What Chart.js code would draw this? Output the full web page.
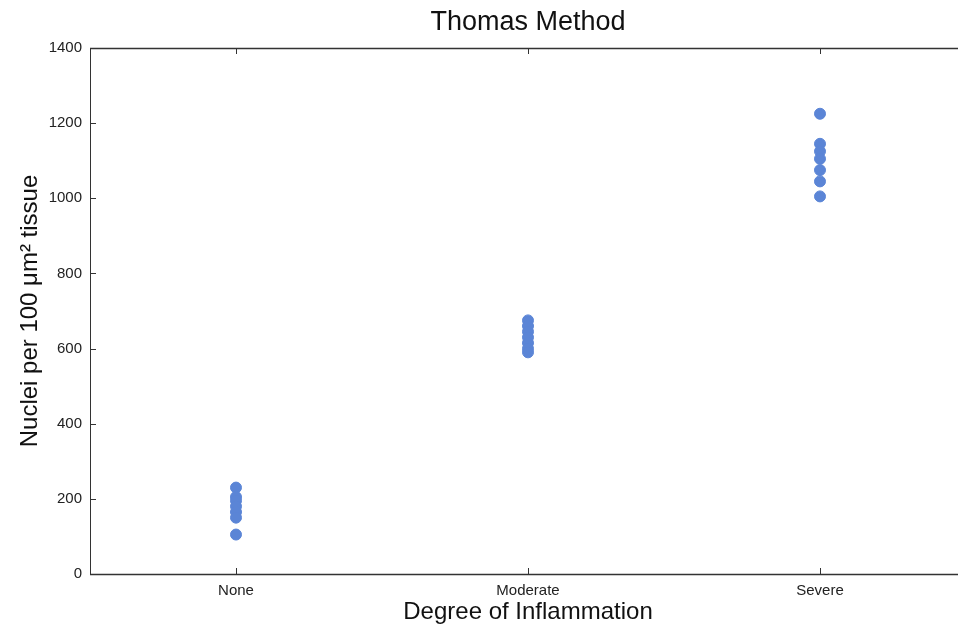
<!DOCTYPE html>
<html><head><meta charset="utf-8">
<script src="https://cdn.jsdelivr.net/npm/chart.js@4"></script>
<style>html,body{margin:0;padding:0;overflow:hidden;background:#fff}#w{width:980px;height:628px}</style>
</head><body><div id="w"><canvas id="c" width="980" height="628"></canvas></div>
<script>
const categories = ['None', 'Moderate', 'Severe'];
const noneValues = [230, 205, 195, 180, 165, 150, 105];
const moderateValues = [675, 660, 645, 630, 615, 600, 590];
const severeValues = [1225, 1145, 1125, 1105, 1075, 1045, 1005];
const yTicks = [0, 200, 400, 600, 800, 1000, 1200, 1400];
const chartTitle = 'Thomas Method';

const groups = [noneValues, moderateValues, severeValues];
const points = [];
groups.forEach((vals, i) => vals.forEach(v => points.push({x: i + 1, y: v})));

const frame = {
  id: 'frame',
  afterDraw(chart) {
    const {ctx, chartArea: a, scales} = chart;
    ctx.save();
    ctx.strokeStyle = '#333';
    ctx.lineWidth = 1;
    ctx.strokeRect(a.left + 0.5, a.top + 0.5, a.right - a.left, a.bottom - a.top);
    ctx.lineWidth = 1.5;
    ctx.beginPath();
    ctx.moveTo(a.left, a.bottom + 0.5); ctx.lineTo(a.right, a.bottom + 0.5);
    ctx.moveTo(a.left, a.top + 0.5); ctx.lineTo(a.right, a.top + 0.5);
    ctx.stroke();
    ctx.lineWidth = 1;
    ctx.beginPath();
    yTicks.forEach(t => {
      const y = Math.round(scales.y.getPixelForValue(t)) + 0.5;
      ctx.moveTo(a.left, y); ctx.lineTo(a.left + 6, y);
      ctx.moveTo(a.right, y); ctx.lineTo(a.right - 6, y);
    });
    [1, 2, 3].forEach(t => {
      const x = Math.round(scales.x.getPixelForValue(t)) + 0.5;
      ctx.moveTo(x, a.bottom); ctx.lineTo(x, a.bottom - 6);
      ctx.moveTo(x, a.top); ctx.lineTo(x, a.top + 6);
    });
    ctx.stroke();
    ctx.fillStyle = '#111';
    ctx.font = '27px "Liberation Sans", Arial, sans-serif';
    ctx.textAlign = 'center';
    ctx.textBaseline = 'middle';
    ctx.fillText(chartTitle, (a.left + a.right) / 2, 23);
    ctx.restore();
  }
};

new Chart(document.getElementById('c'), {
  type: 'scatter',
  data: { datasets: [{ data: points, backgroundColor: '#5b85d6', borderColor: '#5b85d6', pointRadius: 5.5, pointHoverRadius: 5.5 }] },
  options: {
    responsive: false, animation: false,
    layout: { padding: { left: 0, right: 14, top: 48, bottom: 0 } },
    plugins: {
      legend: { display: false }, tooltip: { enabled: false }, title: { display: false }
    },
    scales: {
      x: {
        type: 'linear', min: 0.5, max: 3.5,
        afterBuildTicks: s => { s.ticks = [1, 2, 3].map(v => ({ value: v })); },
        afterFit: s => { s.height = 54; },
        grid: { display: false, drawTicks: false },
        border: { display: false },
        ticks: { callback: v => categories[v - 1], color: '#222', padding: 8,
          font: { family: 'Liberation Sans, Arial, sans-serif', size: 15 } },
        title: { display: true, text: 'Degree of Inflammation', color: '#111',
          font: { family: 'Liberation Sans, Arial, sans-serif', size: 24 }, padding: { top: 0, bottom: 1 } }
      },
      y: {
        min: 0, max: 1400,
        afterBuildTicks: s => { s.ticks = yTicks.map(v => ({ value: v })); },
        afterFit: s => { s.width = 90; },
        grid: { display: false, drawTicks: false },
        border: { display: false },
        ticks: { callback: v => String(v), color: '#222', padding: 8,
          font: { family: 'Liberation Sans, Arial, sans-serif', size: 15 } },
        title: { display: true, text: 'Nuclei per 100 \u03BCm\u00B2 tissue', color: '#111',
          font: { family: 'Liberation Sans, Arial, sans-serif', size: 24 }, padding: { top: 16, bottom: 0 } }
      }
    }
  },
  plugins: [frame]
});
</script></body></html>
